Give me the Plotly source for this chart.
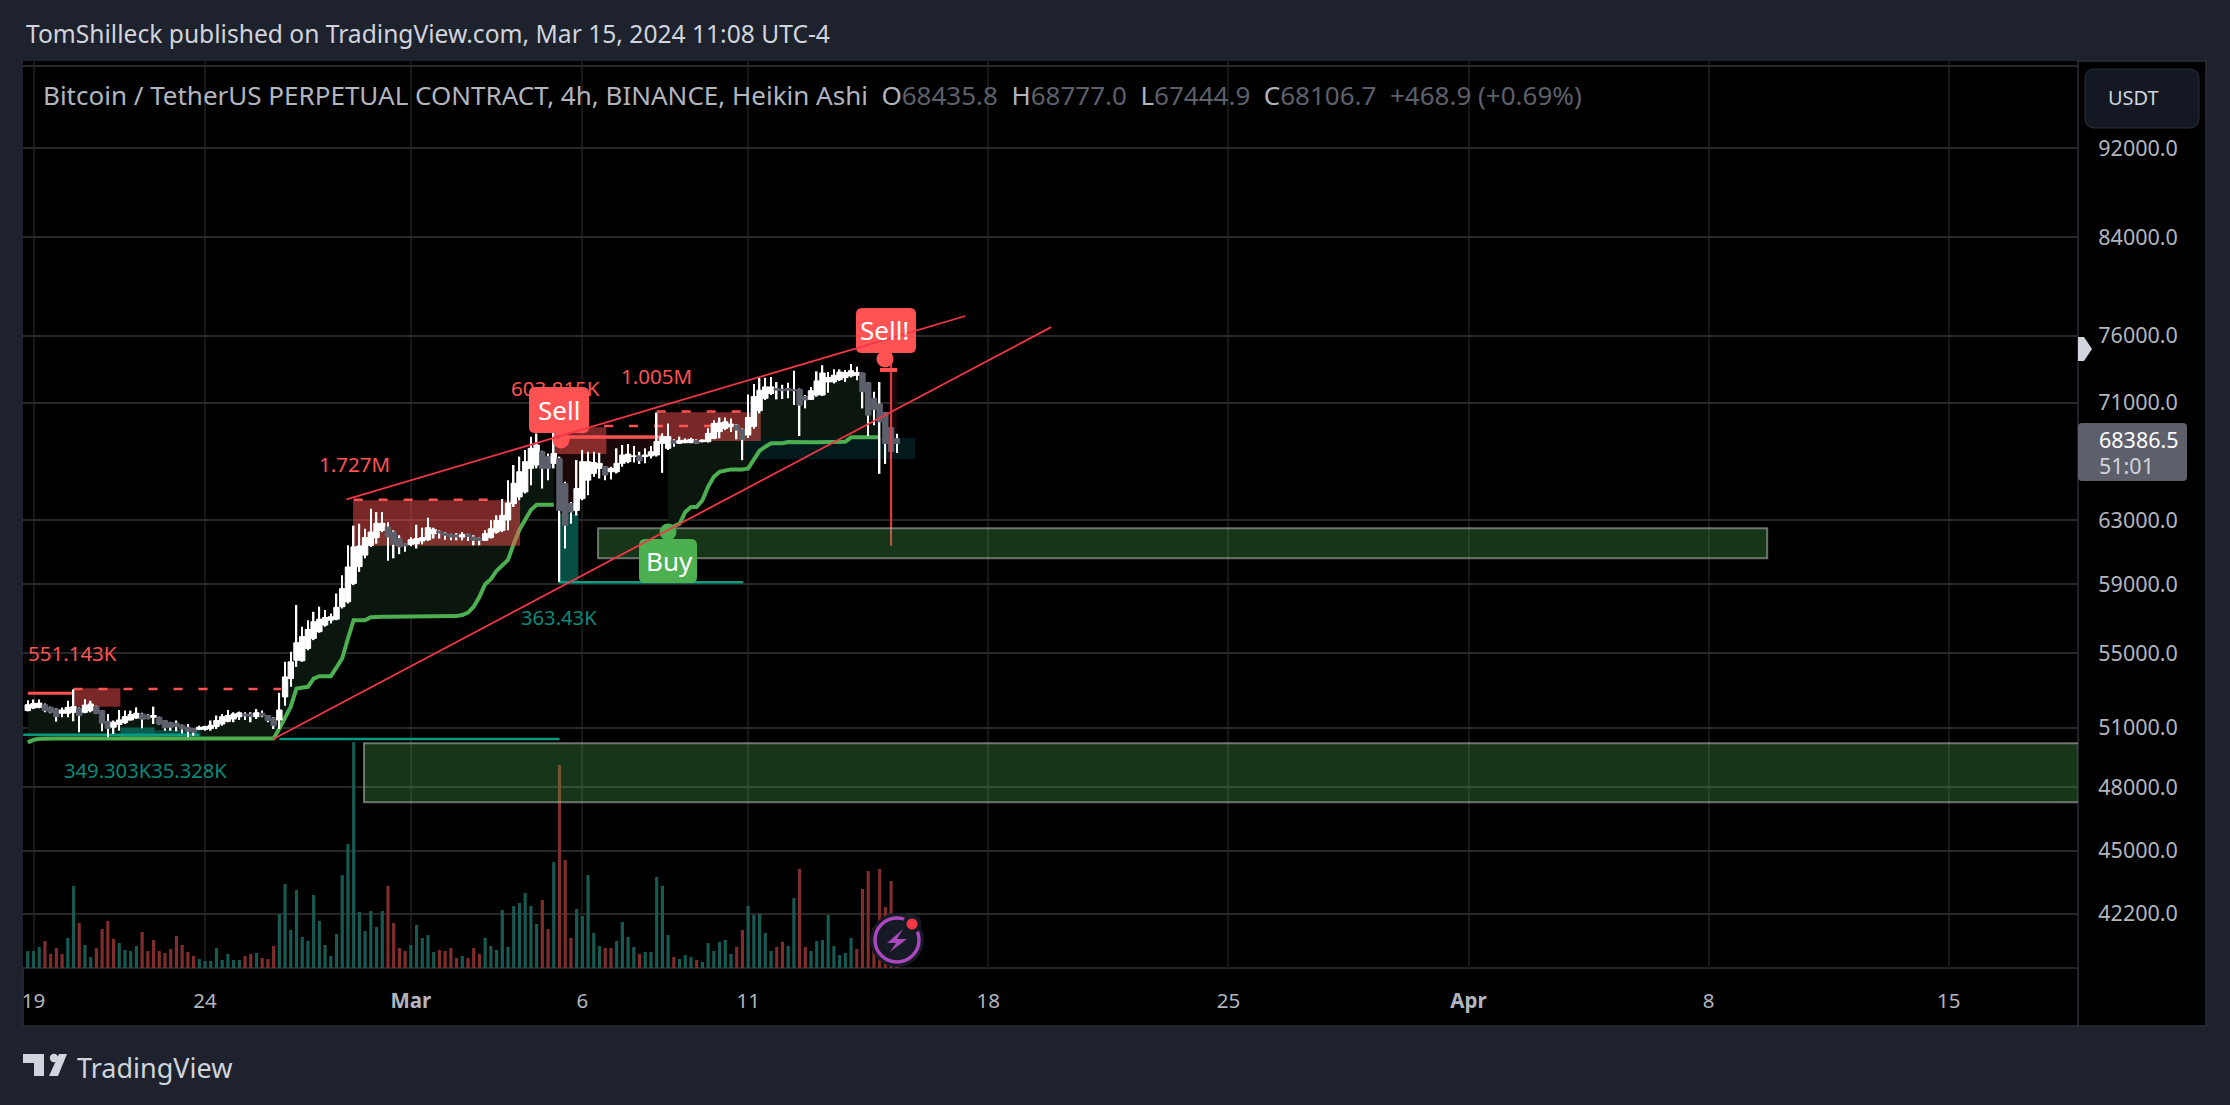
import math
import pandas as pd
import plotly.graph_objects as go

# ---------- data ----------
START = "2024-02-18 20:00"
OPEN = [51890,52030,52060,52200,52060,51970,51750,51750,51800,52010,
 51800,51890,52100,51890,51330,51020,51160,51260,51400,51500,
 51710,51660,51540,51540,51370,51260,51230,51120,51020,50950,
 50910,50910,50950,51050,51190,51330,51450,51570,51710,51710,
 51570,51750,51630,51500,51400,52620,53610,54620,54590,55280,
 55850,56230,56610,56890,56950,57680,57970,59060,60080,60790,
 61400,61880,62340,62550,62230,61820,61500,61460,61500,61670,
 61750,62130,62280,62170,62090,62050,61920,62090,61920,61820,
 61710,61880,62230,62340,63000,64060,64500,64830,66400,66630,
 67530,67200,66740,67070,65380,64060,63620,64390,65610,66060,
 66400,66510,66170,66170,66740,66850,67200,67250,67200,67250,
 67310,68120,67770,68300,68120,68160,68160,68300,68230,68230,
 68460,68930,69160,69270,69390,69090,68690,69300,70410,71310,
 71660,72020,71970,72020,71950,71950,71430,71230,71550,71550,
 72510,72510,72680,72830,72950,73000,73170,72450,71310,70900,
 70270,69210,68435.8]
HIGH = [52440,52480,52480,52270,52100,52010,52060,52410,53020,52060,
 52500,52410,52150,51920,51710,51370,51920,51890,51890,52060,
 51780,51710,52100,51570,51400,51300,51370,51160,51190,50980,
 51100,51100,51370,51630,51710,51920,51800,51840,51800,51800,
 51970,51890,51660,51540,52840,54530,55090,57780,56510,56890,
 57380,57680,57480,57280,58460,59560,61400,62640,62760,62440,
 63720,63510,63510,62860,62340,62030,61540,61900,62700,62510,
 63140,62510,62340,62230,62130,62170,62230,62130,62030,61880,
 62340,62990,63300,64360,65610,66630,67200,67650,68580,68800,
 67600,67420,69310,67200,65500,64170,66960,67650,67530,67530,
 67460,66560,66510,67770,68000,68070,67930,67530,67770,67930,
 70280,68810,69500,68390,68580,68460,68510,68390,68390,69160,
 69740,69930,69930,69860,69460,69160,71580,72350,72810,72810,
 72880,72500,72300,72450,73340,72020,71550,72140,73290,73750,
 73240,73440,73440,73390,73850,73640,73200,72500,71790,72500,
 70320,69300,68777]
LOW = [51850,51970,52010,51800,51750,51310,51540,51540,51330,50760,
 51750,51800,51710,50810,50500,50670,50840,51190,51370,51450,
 50970,51440,51190,51160,50840,50840,50810,50700,50500,50580,
 50880,50840,50840,50930,51100,51280,51280,51400,51400,51280,
 51450,51540,51280,50930,50930,52150,53160,54250,54530,55180,
 55750,56170,56510,56700,56890,57580,57870,58960,59760,60590,
 61300,61500,62230,60440,60590,60850,61000,61340,61200,61460,
 61670,61820,61820,61750,61710,61710,61710,61670,61400,61400,
 61670,61820,62130,62230,62340,63840,64280,64720,65270,66400,
 65050,65610,66400,59160,61200,62760,63290,64280,64610,65830,
 65720,65610,65650,66060,66510,66740,66790,66700,66740,67070,
 67200,66100,67650,67880,68070,68120,68120,68070,68180,68180,
 68390,68460,69040,68900,68390,66960,68480,69140,70220,71190,
 71540,71230,71260,71310,70820,68620,70580,71190,71430,71480,
 71710,72400,72580,72510,72830,72630,70580,68620,69380,66030,
 66700,67000,67444.9]
CLOSE = [52200,52270,52290,51890,51800,51570,51920,52060,52100,51630,
 52180,52240,51750,51230,50950,51280,51400,51570,51680,51750,
 51440,51470,51630,51190,50980,51020,51050,50930,50810,50760,
 51020,51050,51120,51370,51570,51630,51710,51770,51610,51590,
 51780,51610,51370,51100,51920,53700,54530,55600,55950,56360,
 56800,56950,57050,57090,57640,58750,60060,61300,61360,61880,
 62230,62790,62790,61920,61460,61300,61360,61750,61820,61880,
 62510,62380,62170,62030,61920,61920,62070,61960,61710,61710,
 62130,62440,62970,63300,64100,65400,66170,66850,67770,68000,
 66400,66400,67420,63620,62660,63510,65050,66850,66850,66790,
 66740,65950,66400,66740,67310,67370,67250,66920,67310,67530,
 68240,68580,68580,68120,68300,68340,68390,68120,68340,68810,
 69500,69550,69620,69460,69040,68390,69930,71430,71900,72140,
 72140,71900,71860,71900,71860,70820,71190,71860,72580,73170,
 72830,73000,73240,73200,73340,73200,71790,70100,70510,69620,
 68100,67540,68106.7]
VOLUME = [17,17,21,27,14,20,14,30,82,45,23,11,20,39,47,29,25,18,17,22,
 36,17,28,17,15,19,32,23,16,12,9,7,7,20,8,14,8,8,12,14,
 15,10,9,22,54,84,38,78,31,27,73,47,23,12,34,93,124,226,56,37,
 57,41,57,82,45,20,17,23,43,30,33,16,18,17,20,10,12,10,20,14,
 30,22,18,58,21,62,65,75,62,44,68,39,106,203,108,30,59,52,93,35,
 22,20,20,27,46,31,21,14,16,16,91,82,33,11,9,13,11,8,6,25,
 17,26,28,14,21,38,62,53,54,35,17,21,26,22,70,99,21,17,27,28,
 53,22,13,15,30,19,79,97,40,99,61,87,2]
VOLUME_SIDE = [
 "g","g","g","r","r","r","r","g","g","r","g","g","r","r","r","r","g","g","g","g",
 "r","r","r","r","r","r","r","r","r","r","g","g","g","g","g","g","g","g","r","r",
 "g","r","r","r","g","g","g","g","g","g","g","g","g","g","g","g","g","g","g","g",
 "g","g","g","r","r","r","r","g","g","g","g","g","r","r","r","r","g","r","r","r",
 "g","g","g","g","g","g","g","g","g","g","r","r","g","r","r","r","g","g","g","g",
 "g","r","r","g","g","g","g","r","g","g","g","g","g","r","g","g","g","r","g","g",
 "g","g","g","g","r","r","g","g","g","g","g","r","r","g","g","r","r","g","g","g",
 "g","g","g","g","g","r","r","r","r","r","r","r","r"]

GREEN_A = [50240,50370,50420,50440,50440,50440,50440,50440,50440,50440,
 50440,50440,50440,50440,50440,50440,50440,50440,50440,50440,
 50440,50440,50440,50440,50440,50440,50440,50440,50440,50440,
 50440,50440,50440,50440,50440,50440,50440,50440,50440,50440,
 50440,50440,50440,50440,50950,51570,52100,53070,53100,53160,
 53610,53740,53740,53740,54220,54730,55840,56890,56890,56890,
 57060,57090,57090,57090,57090,57090,57090,57090,57090,57090,
 57130,57130,57130,57130,57130,57130,57190,57330,57680,58260,
 59020,59320,59830,60180,60490,61500,62380,63010,63640,63990,
 63990,63990,63990]
GREEN_B = [62440,62590,62760,63510,63840,63840,64280,65170,65830,66170,
 66280,66330,66330,66330,66400,67010,67600,67880,68120,68120,
 68120,68210,68190,68190,68190,68190,68190,68190,68190,68190,
 68210,68230,68530,68530,68530,68530,68530,68530]
GREEN_B_FIRST_BAR = 112
RED_A = [52810,52810,52810,52810,52810,52810,52810,52810,52810]
RED_B = [68550,68550,68550,68550,68550,68550,68550,68550,68550,68550,
 68550,68550,68550,68550,68550,68550,68550,68550,68550]
RED_B_FIRST_BAR = 93
RED_C = [73370,73370]
RED_C_FIRST_BAR = 151
SPIKE_BAR = 151
SPIKE_PRICES = [61380, 75670]

RED_ZONES = [(8.0,16.2,53080,52100),(56.9,86.1,64280,61370),(92.2,101.2,69240,67370),(110.0,128.2,70310,68270)]
RED_DASHES = [(8.0,44.3,53040),(57.0,83.2,64310),(100.8,120.0,69320),(110.0,125.8,70350)]
TEAL_ZONES = [(16.2,22.2,51000,50480,"#0b5c50"),(22.2,30.2,50870,50480,"#07453c"),
              (92.8,96.3,63400,59130,"#064d43"),(126.0,155.2,68480,67040,"#031a1c")]
TEAL_LINES = [(-0.8,30.0,50630),(44.0,93.0,50410),(92.8,125.1,59130)]
DEMAND_BOXES = [("2024-02-28 15:15","2024-04-19 00:00",50190,47270),
                ("2024-03-06 11:00","2024-04-09 13:00",62480,60600)]
TREND_UPPER = (["2024-02-28 03:00","2024-03-17 04:00"],[64340,77540])
TREND_LOWER = (["2024-02-25 23:30","2024-03-19 16:00"],[50400,76670])

PRICE_TICKS = [42200,45000,48000,51000,55000,59000,63000,71000,76000,84000,92000]
# one 4h bar is absent from the reference after 6 Mar, so later day marks sit one bar earlier on this axis
DATE_TICKS = ["2024-02-19","2024-02-24","2024-03-01","2024-03-06","2024-03-10 20:00",
              "2024-03-17 20:00","2024-03-24 20:00","2024-03-31 20:00","2024-04-07 20:00","2024-04-14 20:00"]
DATE_LABELS = ["19","24","<b>Mar</b>","6","11","18","25","<b>Apr</b>","8","15"]

# ---------- layout constants ----------
W, H = 2230, 1105
L, R, T, B = 23, 2078, 61, 968
BG, FONT = "#1e222d", "Noto Sans"
RED, TEAL, GREEN = "#ff5252", "#089981", "#4caf50"
dates = pd.date_range(START, periods=len(OPEN), freq="4h")
t0 = pd.Timestamp(START)
bar_time = lambda i: t0 + pd.Timedelta(hours=4 * i)
fx = lambda px: (px - L) / (R - L)
fy = lambda py: (B - py) / (B - T)
PRICE_RANGE = [math.log10(39930), math.log10(100520)]

fig = go.Figure()
mid = [(o + c) / 2 for o, c in zip(OPEN, CLOSE)]


def band_fill(line, first, fill_col):
    xs = list(dates[first:first + len(line)])
    fig.add_trace(go.Scatter(x=xs, y=mid[first:first + len(line)], mode="lines",
                             line=dict(width=0), hoverinfo="skip"))
    fig.add_trace(go.Scatter(x=xs, y=line, mode="lines", fill="tonexty", fillcolor=fill_col,
                             line=dict(width=0), hoverinfo="skip"))


def band_line(line, first, col, lw):
    xs = list(dates[first:first + len(line)])
    fig.add_trace(go.Scatter(x=xs, y=line, mode="lines", line=dict(color=col, width=lw), hoverinfo="skip"))


def zone(a, b, hi, lo, col):
    fig.add_trace(go.Scatter(x=[bar_time(a), bar_time(b), bar_time(b), bar_time(a), bar_time(a)],
                             y=[lo, lo, hi, hi, lo], mode="lines", fill="toself", fillcolor=col,
                             line=dict(width=0), hoverinfo="skip"))


band_fill(GREEN_A, 0, "#0b170e")
band_fill(GREEN_B, GREEN_B_FIRST_BAR, "#0b170e")
band_fill(RED_B, RED_B_FIRST_BAR, "#1b0808")
band_fill(RED_C, RED_C_FIRST_BAR, "#1b0808")
for a, b, hi, lo, col in TEAL_ZONES:
    zone(a, b, hi, lo, col)
for a, b, p in TEAL_LINES:
    fig.add_trace(go.Scatter(x=[bar_time(a), bar_time(b)], y=[p, p], mode="lines",
                             line=dict(color=TEAL, width=2.5), hoverinfo="skip"))
band_line(GREEN_A, 0, GREEN, 4)
band_line(GREEN_B, GREEN_B_FIRST_BAR, GREEN, 4)
for a, b, hi, lo in RED_ZONES:
    zone(a, b, hi, lo, "rgba(255,82,82,0.48)")
band_line(RED_A, 0, RED, 3)
band_line(RED_B, RED_B_FIRST_BAR, RED, 3.5)
band_line(RED_C, RED_C_FIRST_BAR, RED, 3.5)
for a, b, p in RED_DASHES:
    fig.add_trace(go.Scatter(x=[bar_time(a), bar_time(b)], y=[p, p], mode="lines",
                             line=dict(color=RED, width=2.5, dash="9px,16px"), hoverinfo="skip"))

# wicks (white for every bar) and bodies live on an overlay axis so they sit above the fills
fig.add_trace(go.Bar(x=dates, y=[h - l for h, l in zip(HIGH, LOW)], base=LOW, yaxis="y3", width=3.9e6,
                     marker=dict(color="#ffffff", line=dict(width=0)), hoverinfo="skip"))
body_colors = ["#ffffff" if c >= o else "#5d606b" for o, c in zip(OPEN, CLOSE)]
fig.add_trace(go.Bar(
    x=dates, y=[abs(c - o) for o, c in zip(OPEN, CLOSE)], base=[min(o, c) for o, c in zip(OPEN, CLOSE)],
    yaxis="y3", width=1.36e7, marker=dict(color=body_colors, line=dict(color=body_colors, width=1)), hoverinfo="skip"))
fig.add_trace(go.Scatter(x=[dates[SPIKE_BAR], dates[SPIKE_BAR]], y=SPIKE_PRICES, mode="lines", yaxis="y3",
                         line=dict(color="#f23645", width=2), hoverinfo="skip"))
fig.add_trace(go.Bar(x=dates, y=VOLUME, yaxis="y2", width=8.0e6,
                     marker=dict(color=["#185a52" if s == "g" else "#7f2d2d" for s in VOLUME_SIDE], line=dict(width=0)),
                     hoverinfo="skip"))

shapes, notes = [], []


def rect_paper(x0, y0, x1, y1, fill, line=None, lw=0, layer="above"):
    shapes.append(dict(type="rect", xref="paper", yref="paper", x0=fx(x0), x1=fx(x1), y0=fy(y0), y1=fy(y1),
                       fillcolor=fill, line=dict(color=line or fill, width=lw), layer=layer))


def rounded(x0, y0, x1, y1, r, fill, line=None, layer="above"):
    X0, X1, Y0, Y1 = fx(x0), fx(x1), fy(y0), fy(y1)
    rx, ry = r / (R - L), r / (B - T)
    d = (f"M{X0+rx},{Y0} L{X1-rx},{Y0} Q{X1},{Y0} {X1},{Y0-ry} L{X1},{Y1+ry} Q{X1},{Y1} {X1-rx},{Y1} "
         f"L{X0+rx},{Y1} Q{X0},{Y1} {X0},{Y1+ry} L{X0},{Y0-ry} Q{X0},{Y0} {X0+rx},{Y0} Z")
    shapes.append(dict(type="path", xref="paper", yref="paper", path=d, fillcolor=fill,
                       line=dict(color=line or fill, width=1 if line else 0), layer=layer))


def circle(cx, cy, r, fill, line=None, lw=0, layer="above"):
    shapes.append(dict(type="circle", xref="paper", yref="paper", x0=fx(cx - r), x1=fx(cx + r),
                       y0=fy(cy + r), y1=fy(cy - r), fillcolor=fill,
                       line=dict(color=line or fill, width=lw), layer=layer))


def poly(pts, fill):
    d = "M" + " L".join(f"{fx(x)},{fy(y)}" for x, y in pts) + " Z"
    shapes.append(dict(type="path", xref="paper", yref="paper", path=d, fillcolor=fill, line=dict(width=0), layer="above"))


def text(px, py, s, size, color, anchor="center"):
    notes.append(dict(xref="paper", yref="paper", x=fx(px), y=fy(py), text=s, showarrow=False,
                      xanchor=anchor, yanchor="middle", font=dict(family=FONT, size=size, color=color)))


# page bands (under axis labels)
rect_paper(R, T, 2206, 1026, "#000000", "#2a2e39", 1.5, "below")
rect_paper(L, B, R, 1026, "#000000", "#2a2e39", 1.5, "below")

# drawn boxes above everything
for a, b, hi, lo in DEMAND_BOXES:
    shapes.append(dict(type="rect", x0=a, x1=b, y0=lo, y1=hi, xref="x", yref="y",
                       fillcolor="rgba(76,175,80,0.30)", line=dict(color="rgba(190,190,190,0.55)", width=2), layer="above"))

# signal labels
for (x0, y0, x1, y1, pcx, pcy, col) in [(529, 387, 589, 433, 561, 440, RED), (856, 308, 916, 353, 885, 359, RED),
                                         (639, 539, 697, 583, 668, 532, GREEN)]:
    circle(pcx, pcy, 8.5, col)
    rounded(x0, y0, x1, y1, 6, col)
poly([(880, 368), (897, 368), (897, 372), (880, 372)], RED)

# trend lines over the labels
for xs, ys in (TREND_UPPER, TREND_LOWER):
    shapes.append(dict(type="line", x0=xs[0], x1=xs[1], y0=ys[0], y1=ys[1], xref="x", yref="y",
                       line=dict(color="#f23645", width=1.8), layer="above"))

# USDT button, price tag, marker
rounded(2085, 69, 2199, 128, 10, "#141823", "#2a2e39")
rounded(2078, 423, 2187, 481, 4, "#5d606b")
poly([(2078, 337), (2084, 337), (2092, 349), (2084, 361), (2078, 361)], "#d1d4dc")

# lightning icon
circle(897, 940, 27, "#161a25")
circle(897, 940, 22, "#161a25", "#ab47bc", 3.5)
poly([(903, 929), (887, 943), (896, 943), (890, 952), (907, 939), (897, 939)], "#ab47bc")
circle(912, 924, 9.5, "#161a25")
circle(912, 924, 5.5, "#f23645")

# TradingView mark
poly([(23, 1054), (44, 1054), (44, 1076), (34, 1076), (34, 1063), (23, 1063)], "#d1d4dc")
circle(54, 1058, 4.2, "#d1d4dc")
poly([(59, 1054), (67, 1054), (58, 1076), (49, 1076)], "#d1d4dc")

# text
text(24, 34, "TomShilleck published on TradingView.com, Mar 15, 2024 11:08 UTC-4", 24.6, "#d1d4dc", "left")
V, K = "#5d606b", "#b2b5be"
legend = (f"<span style='color:{K}'>Bitcoin / TetherUS PERPETUAL CONTRACT, 4h, BINANCE, Heikin Ashi &nbsp;O</span>"
          f"<span style='color:{V}'>68435.8</span><span style='color:{K}'> &nbsp;H</span><span style='color:{V}'>68777.0</span>"
          f"<span style='color:{K}'> &nbsp;L</span><span style='color:{V}'>67444.9</span><span style='color:{K}'> &nbsp;C</span>"
          f"<span style='color:{V}'>68106.7 &nbsp;+468.9 (+0.69%)</span>")
text(41, 95, legend, 26, K, "left")
text(2106, 98, "USDT", 20, "#d1d4dc", "left")
text(2097, 440, "68386.5", 21.5, "#ffffff", "left")
text(2097, 465, "51:01", 21.5, "#d1d4dc", "left")
text(72, 653, "551.143K", 20.5, RED)
text(354, 464, "1.727M", 20.5, RED)
text(555, 388, "603.815K", 20.5, RED)
text(656, 376, "1.005M", 20.5, RED)
text(145, 770, "349.303K35.328K", 20.2, "#0a8a78")
text(559, 617, "363.43K", 20.2, "#0a8a78")
text(559, 410, "Sell", 26, "#ffffff")
text(884, 330, "Sell!", 26, "#ffffff")
text(669, 561, "Buy", 26, "#ffffff")
text(75, 1067, "TradingView", 27, "#d1d4dc", "left")

fig.update_layout(
    width=W, height=H, autosize=False, showlegend=False, hovermode=False, dragmode=False,
    paper_bgcolor=BG, plot_bgcolor="#000000", barmode="overlay",
    margin=dict(l=L, r=W - R, t=T, b=H - B, pad=0, autoexpand=False),
    shapes=shapes, annotations=notes,
    xaxis=dict(type="date", range=["2024-02-18 16:39", "2024-04-18 14:26"], domain=[0, 1],
               tickmode="array", tickvals=DATE_TICKS, ticktext=DATE_LABELS,
               showgrid=True, gridcolor="#171717", gridwidth=1.5, zeroline=False, showline=False,
               ticks="outside", ticklen=14, tickcolor="rgba(0,0,0,0)",
               tickfont=dict(family=FONT, size=20.5, color="#b2b5be")),
    yaxis=dict(type="log", range=PRICE_RANGE, side="right", domain=[0, 1],
               tickmode="array", tickvals=PRICE_TICKS + [100000],
               ticktext=[f"{p:.1f}" for p in PRICE_TICKS] + [""],
               showgrid=True, gridcolor="#272727", gridwidth=1.5, zeroline=False, showline=False,
               ticks="outside", ticklen=15, tickcolor="rgba(0,0,0,0)",
               tickfont=dict(family=FONT, size=21.5, color="#b2b5be")),
    yaxis2=dict(overlaying="y", range=[0, B - T], visible=False, fixedrange=True),
    yaxis3=dict(overlaying="y", type="log", range=PRICE_RANGE, visible=False, fixedrange=True),
)
fig.write_html("out.html", config={"displayModeBar": False},
               post_script="document.body.style.margin='0';document.body.style.overflow='hidden';")
